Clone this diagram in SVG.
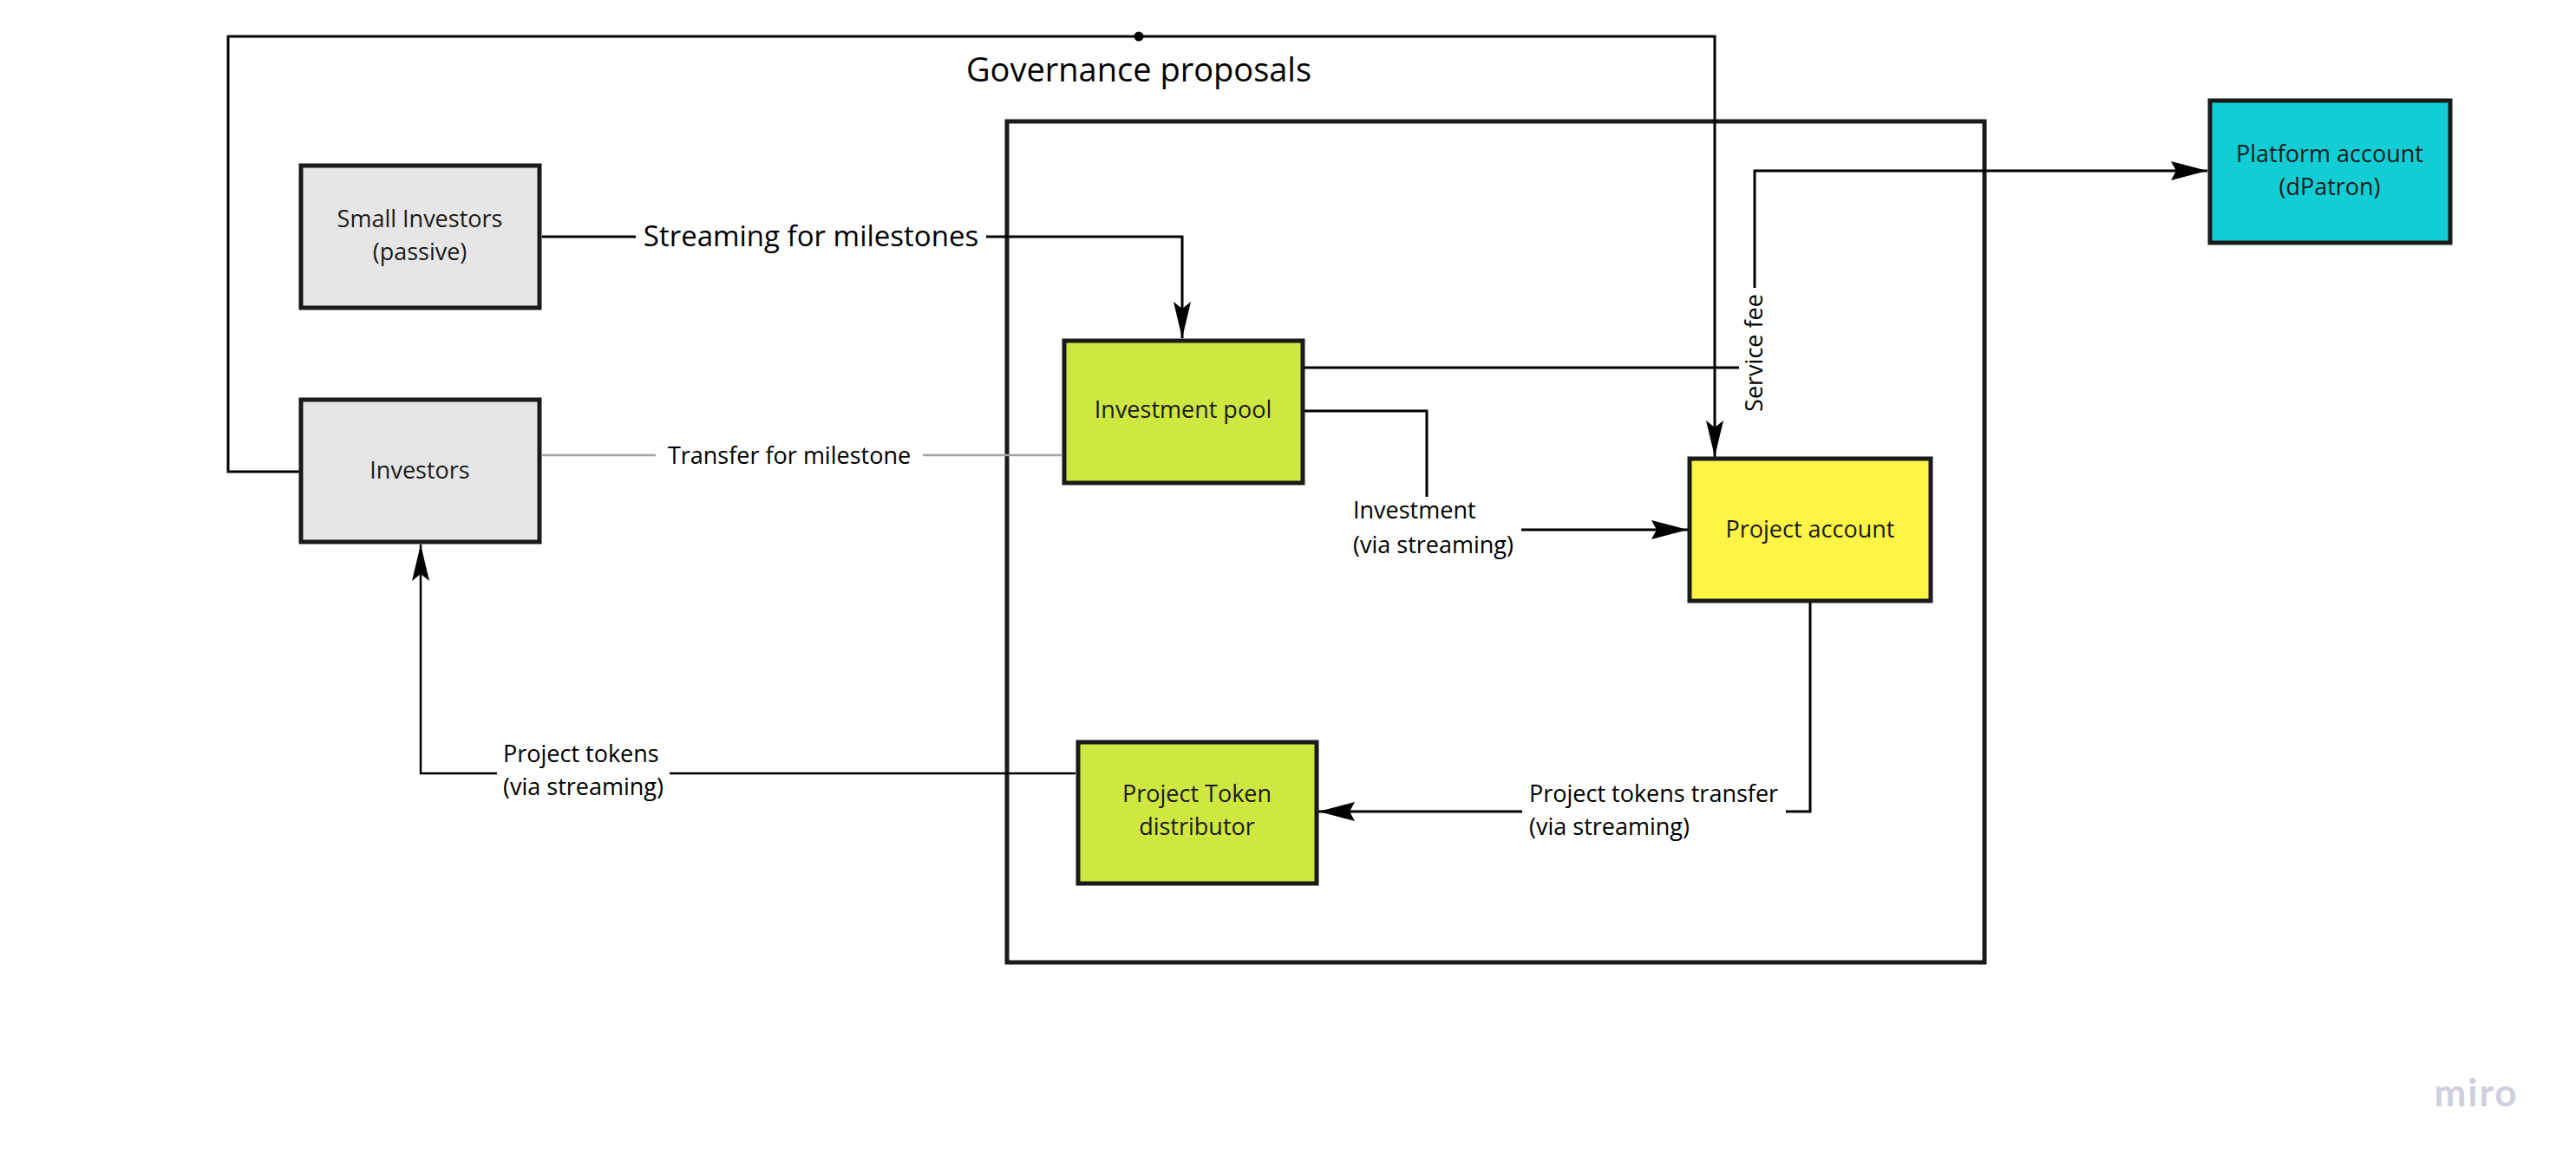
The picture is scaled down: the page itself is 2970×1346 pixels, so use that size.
<svg xmlns="http://www.w3.org/2000/svg" width="2970" height="1346" viewBox="0 0 2970 1346">
  <style>
    .box { stroke: #1a1a1a; stroke-width: 5; }
    .gray { fill: #e6e6e6; }
    .lime { fill: #cee741; }
    .yellow { fill: #fef445; }
    .cyan { fill: #12cdd4; }
    .frame { fill: none; stroke: #1a1a1a; stroke-width: 5; }
    .node-text { font-family: "Open Sans", "Liberation Sans", sans-serif; font-size: 27px; fill: #1a1a1a; text-anchor: middle; }
    .label { font-family: "Open Sans", "Liberation Sans", sans-serif; font-size: 27px; fill: #000; }
    .title { font-size: 38px; text-anchor: middle; }
    .big { font-size: 33px; text-anchor: middle; }
    .wire { fill: none; stroke: #000; stroke-width: 3; }
    .wire-thin { fill: none; stroke: #000; stroke-width: 2.5; }
    .wire-gray { fill: none; stroke: #a3a3a3; stroke-width: 2.5; }
    .mask { fill: #fff; }
  </style>
  <defs>
    <marker id="arrow" markerUnits="userSpaceOnUse" markerWidth="46" markerHeight="26" viewBox="-44 -13 46 26" refX="0" refY="0" orient="auto">
      <path d="M0,0 L-42,-11 L-36,0 L-42,11 Z" fill="#000"/>
    </marker>
    <marker id="arrow-slim" markerUnits="userSpaceOnUse" markerWidth="46" markerHeight="26" viewBox="-44 -13 46 26" refX="0" refY="0" orient="auto">
      <path d="M0,0 L-42,-10 L-34,0 L-42,10 Z" fill="#000"/>
    </marker>
  </defs>

  <rect width="2970" height="1346" fill="#fff"/>

  <!-- project frame -->
  <rect id="project-frame" class="frame" x="1161" y="140" width="1127" height="970"/>

  <!-- connectors -->
  <g id="connectors">
    <!-- governance loop from investors to project account -->
    <polyline class="wire" points="345,544 263,544 263,42 1977,42 1977,527" marker-end="url(#arrow-slim)"/>
    <circle cx="1313" cy="42" r="5.5" fill="#000"/>
    <text class="label title" x="1313" y="94">Governance proposals</text>

    <!-- small investors streaming into the pool -->
    <polyline class="wire" points="625,273 1363,273 1363,390" marker-end="url(#arrow-slim)"/>
    <rect class="mask" x="733" y="248" width="404" height="46"/>
    <text class="label big" x="935" y="284">Streaming for milestones</text>

    <!-- investors transfer into the pool -->
    <line class="wire-gray" x1="625" y1="525" x2="1224" y2="525"/>
    <rect class="mask" x="756" y="505" width="308" height="40"/>
    <text class="label" x="910" y="535" text-anchor="middle">Transfer for milestone</text>

    <!-- service fee: pool to platform -->
    <polyline class="wire" points="1504,424 2023,424 2023,197 2545,197" marker-end="url(#arrow)"/>
    <rect class="mask" x="2005" y="332" width="38" height="148"/>
    <text class="label" x="2032" y="407" text-anchor="middle" transform="rotate(-90 2032 407)">Service fee</text>

    <!-- investment: pool to project account -->
    <polyline class="wire" points="1504,474 1645,474 1645,611 1946,611" marker-end="url(#arrow)"/>
    <rect class="mask" x="1552" y="573" width="202" height="80"/>
    <text class="label" x="1560" y="598">Investment</text>
    <text class="label" x="1560" y="638">(via streaming)</text>

    <!-- project tokens: project account to distributor -->
    <polyline class="wire" points="2087,695 2087,936 1520,936" marker-end="url(#arrow)"/>
    <rect class="mask" x="1755" y="896" width="304" height="80"/>
    <text class="label" x="1763" y="925">Project tokens transfer</text>
    <text class="label" x="1763" y="963">(via streaming)</text>

    <!-- project tokens: distributor back to investors -->
    <polyline class="wire-thin" points="1240,892 485,892 485,628" marker-end="url(#arrow-slim)"/>
    <rect class="mask" x="573" y="852" width="199" height="80"/>
    <text class="label" x="580" y="879">Project tokens</text>
    <text class="label" x="580" y="917">(via streaming)</text>
  </g>

  <!-- nodes -->
  <g id="small-investors">
    <rect class="box gray" x="347" y="191" width="275" height="164"/>
    <text class="node-text" x="484" y="262">Small Investors</text>
    <text class="node-text" x="484" y="300">(passive)</text>
  </g>

  <g id="investors">
    <rect class="box gray" x="347" y="461" width="275" height="164"/>
    <text class="node-text" x="484" y="552">Investors</text>
  </g>

  <g id="investment-pool">
    <rect class="box lime" x="1227" y="393" width="275" height="164"/>
    <text class="node-text" x="1364" y="482">Investment pool</text>
  </g>

  <g id="project-account">
    <rect class="box yellow" x="1948" y="529" width="278" height="164"/>
    <text class="node-text" x="2087" y="620">Project account</text>
  </g>

  <g id="project-token-distributor">
    <rect class="box lime" x="1243" y="856" width="275" height="163"/>
    <text class="node-text" x="1380" y="925">Project Token</text>
    <text class="node-text" x="1380" y="963">distributor</text>
  </g>

  <g id="platform-account">
    <rect class="box cyan" x="2548" y="116" width="277" height="164"/>
    <text class="node-text" x="2686" y="187">Platform account</text>
    <text class="node-text" x="2686" y="225">(dPatron)</text>
  </g>

  <!-- board watermark -->
  <text x="2855" y="1276" font-family="Lato, 'Open Sans', sans-serif" font-size="44" font-weight="700" fill="#cfd0dc" text-anchor="middle" letter-spacing="2">miro</text>
</svg>
